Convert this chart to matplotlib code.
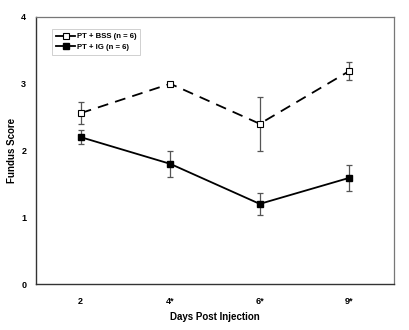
import matplotlib
matplotlib.use("Agg")
import matplotlib.pyplot as plt
import numpy as np

# values
days = ["2", "4*", "6*", "9*"]
bss_mean = [2.56, 3.00, 2.40, 3.19]
bss_err = [0.17, 0.0, 0.40, 0.13]
ig_mean = [2.20, 1.80, 1.20, 1.59]
ig_err = [0.11, 0.20, 0.17, 0.19]

plt.rcParams['font.family'] = ['Liberation Sans', 'DejaVu Sans']
plt.rcParams['font.weight'] = 'bold'

fig = plt.figure(figsize=(4.1, 3.3), dpi=100)
ax = fig.add_axes([36/410, 1 - 284/330, 358/410, 267/330])

x = np.arange(len(days))

ax.errorbar(x, bss_mean, yerr=bss_err, fmt='none', ecolor='#555555',
            elinewidth=0.9, capsize=2.5, capthick=0.9, zorder=2)
ax.errorbar(x, ig_mean, yerr=ig_err, fmt='none', ecolor='#555555',
            elinewidth=0.9, capsize=2.5, capthick=0.9, zorder=2)

ax.plot(x, bss_mean, color='black', linestyle=(0, (6, 4)), linewidth=1.3,
        marker='s', markersize=5, markerfacecolor='white',
        markeredgecolor='black', markeredgewidth=0.8,
        label='PT + BSS (n = 6)', zorder=3)
ax.plot(x, ig_mean, color='black', linestyle='-', linewidth=1.3,
        marker='s', markersize=5, markerfacecolor='black',
        markeredgecolor='black', label='PT + IG (n = 6)', zorder=3)

ax.set_xlim(-0.5, 3.5)
ax.set_ylim(0, 4)
ax.set_xticks(x)
ax.set_xticklabels(days)
ax.set_yticks([0, 1, 2, 3, 4])
ax.tick_params(length=0, labelsize=6.5)
ax.tick_params(axis='y', pad=7)
ax.tick_params(axis='x', pad=9)

for side in ['left', 'bottom']:
    ax.spines[side].set_color('#333333')
    ax.spines[side].set_linewidth(1.0)
for side in ['top', 'right']:
    ax.spines[side].set_color('#777777')
    ax.spines[side].set_linewidth(0.9)

ax.set_xlabel('Days Post Injection', fontsize=7, fontweight='bold')
ax.set_ylabel('Fundus Score', fontsize=7, fontweight='bold')
ax.xaxis.set_label_coords(0.5, -28/267)
ax.yaxis.set_label_coords(-19/358, 0.5)

leg = ax.legend(loc='upper left', bbox_to_anchor=(0.035, 0.97), fontsize=5.6,
                frameon=True, fancybox=False, handlelength=2.4,
                borderpad=0.5, labelspacing=0.45, handletextpad=0.2)
leg.get_frame().set_edgecolor('#bbbbbb')
leg.get_frame().set_linewidth(0.6)
# legend keys in the reference are drawn with solid lines
for line in leg.get_lines():
    line.set_linestyle('-')
for t in leg.get_texts():
    t.set_fontweight('bold')

fig.savefig('out.png', dpi=100)
